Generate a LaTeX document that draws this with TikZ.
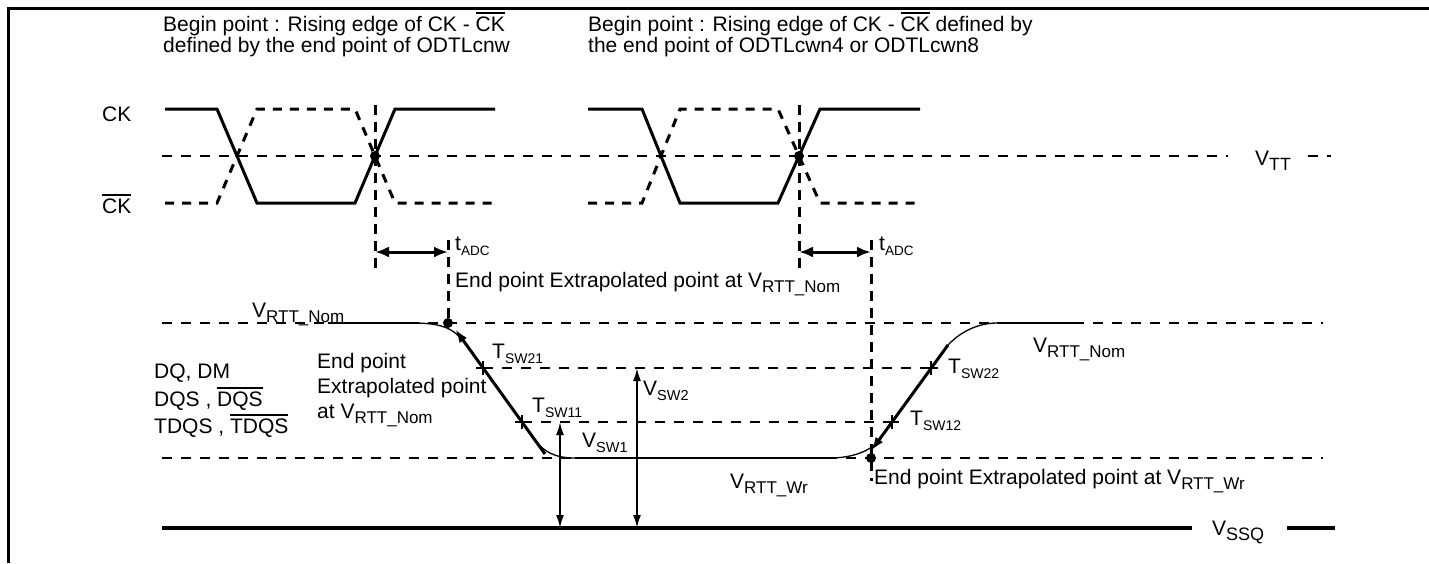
\documentclass[tikz,border=0pt]{standalone}
\usepackage{fontspec}
\setmainfont{Liberation Sans}
\usetikzlibrary{arrows.meta}
\newcommand\myovl[1]{\leavevmode\vbox{\hrule height 1.6pt\kern 2.4pt\hbox{#1}}}
\newcommand\mysub[2][17]{\raisebox{-5pt}{\fontsize{#1}{#1}\selectfont #2}}
\begin{document}
\begin{tikzpicture}[x=1pt,y=-1pt,
  lbl/.style={inner sep=0pt, anchor=base west, font=\fontsize{21}{25}\selectfont},
  sig/.style={line width=3pt},
  sigd/.style={line width=3pt, dash pattern=on 9pt off 8pt},
  lvl/.style={line width=2pt, dash pattern=on 10pt off 9pt},
  vdash/.style={line width=3pt, dash pattern=on 10pt off 7pt},
  flat/.style={line width=2.2pt},
  thin/.style={line width=1.3pt},
  slope/.style={line width=3pt, -{Latex[length=14pt,width=9pt]}},
  dbl/.style={line width=3pt, {Latex[length=14pt,width=11pt]}-{Latex[length=14pt,width=11pt]}},
  vsw/.style={line width=2pt, {Latex[length=13pt,width=8pt]}-{Latex[length=13pt,width=8pt]}},
  cross/.style={line width=1.6pt}]
\useasboundingbox (0,0) rectangle (1429,563);
\fill[white] (0,0) rectangle (1429,563);
% frame
\draw[line width=3pt] (8,563) -- (8,8) -- (1429,8);
% top texts
\node[lbl] (b1a) at (163,31) {Begin point : Rising edge of CK - \myovl{CK}};
\node[lbl] (b1b) at (163,52) {defined by the end point of ODTLcnw};
\node[lbl] (b2a) at (588,31) {Begin point : Rising edge of CK - \myovl{CK} defined by};
\node[lbl] (b2b) at (588,52) {the end point of ODTLcwn4 or ODTLcwn8};
% CK labels
\node[lbl] (ck) at (102,121) {CK};
\node[lbl] (ckb) at (102,213) {\myovl{CK}};
% clock waveforms
\draw[sig] (165,109) -- (217,109) -- (257,203) -- (355,203) -- (395,109) -- (495,109);
\draw[sigd] (165,203) -- (217,203) -- (257,109) -- (355,109) -- (395,203) -- (495,203);
\draw[sig] (588,109) -- (642,109) -- (680,203) -- (778,203) -- (820,109) -- (920,109);
\draw[sigd] (588,203) -- (642,203) -- (680,109) -- (778,109) -- (820,203) -- (920,203);
% VTT
\draw[lvl] (162,156) -- (1228,156);
\draw[lvl] (1308,156) -- (1331,156);
\node[lbl] (vtt) at (1255,165) {V\mysub[17.7]{TT}};
% crossing points
\coordinate (x1) at (375,156);
\coordinate (x2) at (799,156);
\fill (x1) circle (5);
\fill (x2) circle (5);
% vertical dashed
\draw[vdash] (375,105) -- (375,270);
\draw[vdash] (799,105) -- (799,270);
\draw[vdash] (448,240) -- (448,323);
\draw[vdash] (871,240) -- (871,481);
% tADC
\coordinate (a1l) at (375,252); \coordinate (a1r) at (448,252);
\coordinate (a2l) at (799,252); \coordinate (a2r) at (871,252);
\draw[dbl] (a1l) -- (a1r);
\draw[dbl] (a2l) -- (a2r);
\node[lbl] (tadc1) at (455,250) {t\mysub[13.5]{ADC}};
\node[lbl] (tadc2) at (879,250) {t\mysub[13.5]{ADC}};
\node[lbl] (ep1) at (455,287) {End point Extrapolated point at V\mysub{RTT\_Nom}};
% levels
\draw[lvl] (162,323) -- (1323,323);
\draw[lvl] (162,458) -- (1323,458);
\draw[line width=4pt] (162,528) -- (1192,528);
\draw[line width=4pt] (1287,528) -- (1335,528);
\node[lbl] (vssq) at (1212,535) {V\mysub[18]{SSQ}};
% Tsw dashed
\draw[lvl] (483,368) -- (931,368);
\draw[lvl] (522,422) -- (892,422);
% signal
\draw[flat] (328,323) -- (413,323);
\draw[flat] (575,458) -- (830,458);
\draw[flat] (997,323) -- (1077,323);
\draw[thin] (413,323) .. controls (440,323) and (453,328) .. (462,340);
\draw[thin] (535,440) .. controls (544,452) and (555,458) .. (575,458);
\draw[thin] (830,458) .. controls (852,458) and (871,451) .. (879,440);
\draw[thin] (944,350) .. controls (955,335) and (975,323) .. (997,323);
% extrapolated slopes
\draw[slope] (545,454) -- (455,329);
\draw[slope] (948,345) -- (871,451);
% end points
\coordinate (e1) at (448,323);
\coordinate (e2) at (871,458);
\fill (e1) circle (5);
\fill (e2) circle (5);
% crosses
\foreach \p in {(483,368),(522,422),(892,422),(931,368)} {
  \draw[cross] \p ++(-7,0) -- ++(14,0);
  \draw[cross] \p ++(0,-7) -- ++(0,14);
}
% VSW arrows
\coordinate (s2t) at (637,368); \coordinate (s2b) at (637,528);
\coordinate (s1t) at (560,422); \coordinate (s1b) at (560,528);
\draw[vsw] (s2t) -- (s2b);
\draw[vsw] (s1t) -- (s1b);
% labels
\node[lbl] (vnom1) at (252,317) {V\mysub{RTT\_Nom}};
\node[lbl] (dq1) at (154,378) {DQ, DM};
\node[lbl] (dq2) at (154,406) {DQS , \myovl{DQS}};
\node[lbl] (dq3) at (154,433) {TDQS , \myovl{TDQS}};
\node[lbl] (epl1) at (317,368) {End point};
\node[lbl] (epl2) at (317,393) {Extrapolated point};
\node[lbl] (epl3) at (317,418) {at V\mysub{RTT\_Nom}};
\node[lbl] (t21) at (492,358) {T\mysub[14]{SW21}};
\node[lbl] (t11) at (532,412) {T\mysub[14]{SW11}};
\node[lbl] (t12) at (910,425) {T\mysub[14]{SW12}};
\node[lbl] (t22) at (948,373) {T\mysub[14]{SW22}};
\node[lbl] (vsw2) at (643,395) {V\mysub[14.5]{SW2}};
\node[lbl] (vsw1) at (582,447) {V\mysub[14.5]{SW1}};
\node[lbl] (vwr) at (730,488) {V\mysub{RTT\_Wr}};
\node[lbl] (vnom2) at (1033,352) {V\mysub{RTT\_Nom}};
\node[lbl] (ep2) at (874,484) {End point Extrapolated point at V\mysub{RTT\_Wr}};
\end{tikzpicture}
\end{document}
